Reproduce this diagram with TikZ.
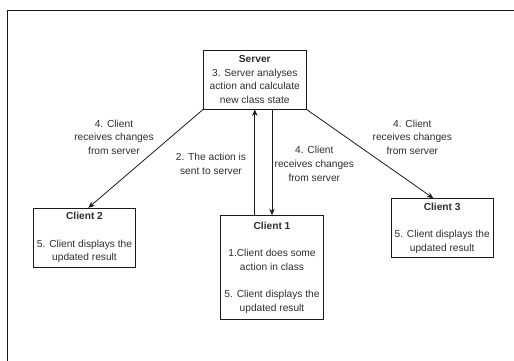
\documentclass[tikz,border=0pt]{standalone}
\usepackage{fontspec}
\setmainfont{Liberation Sans}
\usetikzlibrary{arrows.meta}
\definecolor{txt}{HTML}{2E2E2E}
\definecolor{ln}{HTML}{1A1A1A}
\begin{document}
\begin{tikzpicture}[x=1pt,y=-1pt,
  every node/.style={font=\fontsize{10.2}{13.7}\selectfont, text=txt, align=center, inner sep=0pt},
  box/.style={draw=ln, line width=0.9pt, minimum width=102.5pt, minimum height=59pt},
  conn/.style={draw=ln, line width=0.8pt, -{Stealth[length=6.5pt,width=5.5pt]}},
  lbl/.style={}]
\useasboundingbox (0,0) rectangle (514,361);
\draw[ln, line width=0.9pt] (7,361) -- (7,10) -- (514,10);

\node[box] (srv) at (254.8,79.5) {\textbf{Server}\\3. Server analyses\\action and calculate\\new class state};
\node[box] (c2) at (84.5,237.8) {\textbf{Client 2}\\[13.7pt]5. Client displays the\\updated result};
\node[box, minimum height=103.6pt] (c1) at (272,267.5) {\textbf{Client 1}\\[13.7pt]1.Client does some\\action in class\\[13.7pt]5. Client displays the\\updated result};
\node[box] (c3) at (442.2,228.2) {\textbf{Client 3}\\[13.7pt]5. Client displays the\\updated result};

\draw[conn] (srv.south west) -- ([xshift=3.8pt]c2.north);
\draw[conn] (srv.south east) -- ([xshift=-8.9pt]c3.north);
\draw[conn] (c1.north -| srv.south) -- (srv.south);
\draw[conn] (srv.south -| c1.north) -- (c1.north);

\node[lbl] (l1) at (114,137.3) {4. Client\\receives changes\\from server};
\node[lbl] (l2) at (211,163.7) {2. The action is\\sent to server};
\node[lbl] (l3) at (314.3,163.8) {4. Client\\receives changes\\from server};
\node[lbl] (l4) at (412.3,137.3) {4. Client\\receives changes\\from server};
\end{tikzpicture}
\end{document}
